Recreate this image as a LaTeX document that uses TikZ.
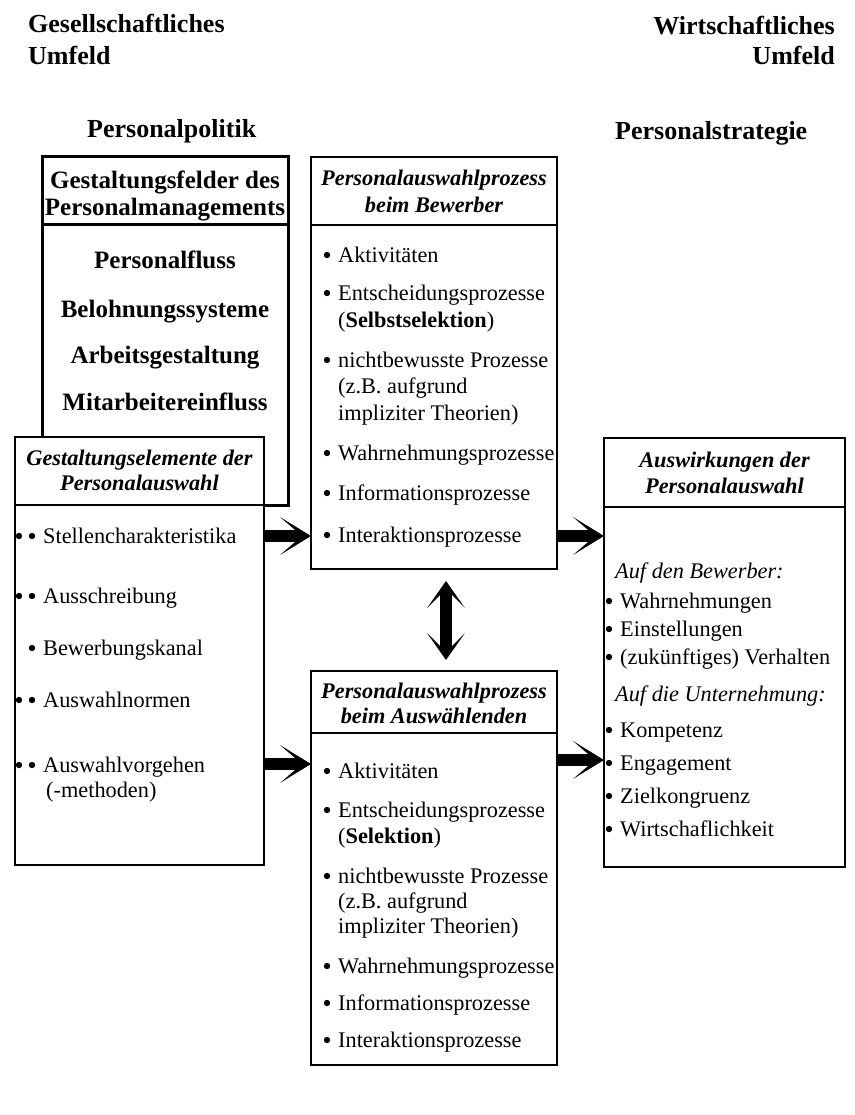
\documentclass[tikz,border=0pt]{standalone}
\usepackage{fontspec}
\setmainfont{Liberation Serif}
\usetikzlibrary{arrows.meta}
\newcommand\mytxt[4]{\node[body] (#1) at (#2,#3) {#4};}
% bullet as a small filled dot, centred above the baseline #2
\newcommand\bu[2]{\fill (#1,#2-7) circle (3.2pt);}
\tikzset{
 box/.style={draw, line width=1.6pt, inner sep=0pt, outer sep=0pt, anchor=north west, fill=white},
 thickbox/.style={draw, line width=3pt, inner sep=0pt, outer sep=0pt, anchor=north west},
 body/.style={inner sep=0pt, anchor=base west, font=\fontsize{22.3}{27}\selectfont},
 hdr/.style={inner sep=0pt, anchor=base, font=\fontsize{22.3}{27}\selectfont\bfseries\itshape},
 fld/.style={inner sep=0pt, anchor=base, font=\fontsize{25}{30}\selectfont\bfseries},
 big/.style={inner sep=0pt, font=\fontsize{26}{31}\selectfont\bfseries},
 blockarr/.style={line width=12pt, -{Stealth[length=31pt,width=38pt,inset=22pt,line width=0pt]}},
 dblarr/.style={line width=12pt, {Stealth[length=27pt,width=38pt,inset=19pt,line width=0pt]}-{Stealth[length=27pt,width=38pt,inset=19pt,line width=0pt]}},
}
\begin{document}
\begin{tikzpicture}[x=1pt,y=-1pt]
\fill[white] (0,0) rectangle (854,1115);
\useasboundingbox (0,0) rectangle (854,1115);

% top labels
\node[big,anchor=base west] (gu1) at (28,33) {Gesellschaftliches};
\node[big,anchor=base west] (gu2) at (28,65) {Umfeld};
\node[big,anchor=base west] (pp) at (87,138) {Personalpolitik};
\node[big,anchor=base east] (wu1) at (835,35) {Wirtschaftliches};
\node[big,anchor=base east] (wu2) at (835,65) {Umfeld};
\node[big,anchor=base west] (ps) at (615,140) {Personalstrategie};

% Gestaltungsfelder box
\node[thickbox, minimum width=246pt, minimum height=348pt] (felder) at (42,157) {};
\draw[line width=3pt] (felder.west |- 0,225) -- (felder.east |- 0,225);
\node[fld] (fh1) at (165,189) {Gestaltungsfelder des};
\node[fld] (fh2) at (165,216) {Personalmanagements};
\node[fld] (f1) at (165,268) {Personalfluss};
\node[fld] (f2) at (165,317) {Belohnungssysteme};
\node[fld] (f3) at (165,363) {Arbeitsgestaltung};
\node[fld] (f4) at (165,410) {Mitarbeitereinfluss};

% Gestaltungselemente box
\node[box, minimum width=249pt, minimum height=428pt] (elem) at (15,437) {};
\draw[line width=1.6pt] (elem.west |- 0,505) -- (elem.east |- 0,505);
\node[hdr] (eh1) at (139.5,465) {Gestaltungselemente der};
\node[hdr] (eh2) at (139.5,490) {Personalauswahl};
\mytxt{e1}{43}{543}{Stellencharakteristika}
\mytxt{e2}{43}{603}{Ausschreibung}
\mytxt{e3}{43}{655}{Bewerbungskanal}
\mytxt{e4}{43}{707}{Auswahlnormen}
\mytxt{e5}{43}{772}{Auswahlvorgehen}
\mytxt{e6}{46}{797}{(-methoden)}
\foreach \yy in {543,603,707,772} {\bu{19}{\yy}\bu{32}{\yy}}
\bu{32}{655}

% Bewerber box
\node[box, minimum width=246pt, minimum height=412pt] (bew) at (311,157) {};
\draw[line width=1.6pt] (bew.west |- 0,225) -- (bew.east |- 0,225);
\node[hdr] (bh1) at (434,186) {Personalauswahlprozess};
\node[hdr] (bh2) at (434,213) {beim Bewerber};
\mytxt{b1}{338}{262}{Aktivitäten}
\mytxt{b2}{338}{300}{Entscheidungsprozesse}
\mytxt{b3}{338}{327}{(\textbf{Selbstselektion})}
\mytxt{b4}{338}{367}{nichtbewusste Prozesse}
\mytxt{b5}{338}{393}{(z.B. aufgrund}
\mytxt{b6}{338}{420}{impliziter Theorien)}
\mytxt{b7}{338}{460}{Wahrnehmungsprozesse}
\mytxt{b8}{338}{500}{Informationsprozesse}
\mytxt{b9}{338}{542}{Interaktionsprozesse}
\foreach \yy in {262,300,367,460,500,542} {\bu{327}{\yy}}

% Auswaehlender box
\node[box, minimum width=246pt, minimum height=394pt] (aus) at (311,671) {};
\draw[line width=1.6pt] (aus.west |- 0,733) -- (aus.east |- 0,733);
\node[hdr] (ah1) at (434,698) {Personalauswahlprozess};
\node[hdr] (ah2) at (434,723) {beim Auswählenden};
\mytxt{a1}{338}{778}{Aktivitäten}
\mytxt{a2}{338}{817}{Entscheidungsprozesse}
\mytxt{a3}{338}{843}{(\textbf{Selektion})}
\mytxt{a4}{338}{883}{nichtbewusste Prozesse}
\mytxt{a5}{338}{908}{(z.B. aufgrund}
\mytxt{a6}{338}{933}{impliziter Theorien)}
\mytxt{a7}{338}{973}{Wahrnehmungsprozesse}
\mytxt{a8}{338}{1010}{Informationsprozesse}
\mytxt{a9}{338}{1047}{Interaktionsprozesse}
\foreach \yy in {778,817,883,973,1010,1047} {\bu{327}{\yy}}

% Auswirkungen box
\node[box, minimum width=241pt, minimum height=429pt] (res) at (604,438) {};
\draw[line width=1.6pt] (res.west |- 0,507) -- (res.east |- 0,507);
\node[hdr] (rh1) at (724.5,467) {Auswirkungen der};
\node[hdr] (rh2) at (724.5,493) {Personalauswahl};
\mytxt{r0}{615}{578}{\textit{Auf den Bewerber:}}
\mytxt{r1}{620}{608}{Wahrnehmungen}
\mytxt{r2}{620}{636}{Einstellungen}
\mytxt{r3}{620}{664}{(zukünftiges) Verhalten}
\mytxt{r4}{615}{701}{\textit{Auf die Unternehmung:}}
\mytxt{r5}{620}{737}{Kompetenz}
\mytxt{r6}{620}{770}{Engagement}
\mytxt{r7}{620}{803}{Zielkongruenz}
\mytxt{r8}{620}{836}{Wirtschaflichkeit}
\foreach \yy in {608,636,664,737,770,803,836} {\bu{609}{\yy}}

% block arrows
\draw[blockarr] (elem.east |- 0,536) -- (bew.west |- 0,536);
\draw[blockarr] (elem.east |- 0,764) -- (aus.west |- 0,764);
\draw[blockarr] (bew.east |- 0,536) -- (res.west |- 0,536);
\draw[blockarr] (aus.east |- 0,760) -- (res.west |- 0,760);
\draw[dblarr, shorten <=12pt, shorten >=11pt] ([xshift=12pt]bew.south) -- ([xshift=12pt]aus.north);
\end{tikzpicture}
\end{document}
